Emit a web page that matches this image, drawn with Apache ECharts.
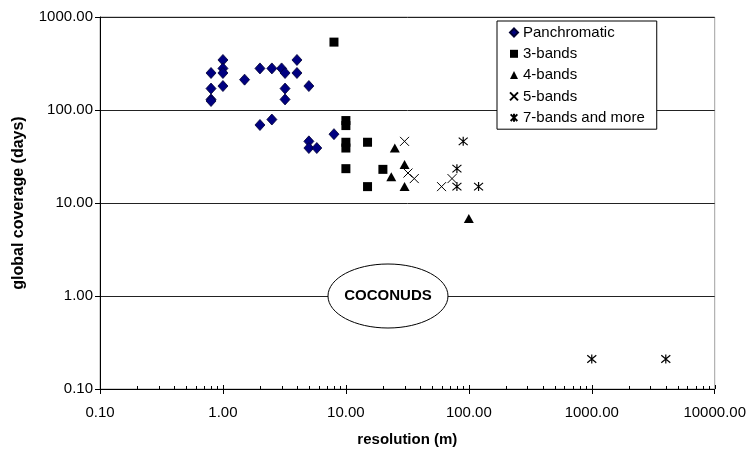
<!DOCTYPE html>
<html>
<head>
<meta charset="utf-8">
<script src="https://cdn.jsdelivr.net/npm/echarts@6/dist/echarts.min.js"></script>
<style>
html,body{margin:0;padding:0;background:#fff;}
#chart{width:749px;height:452px;}
</style>
</head>
<body>
<div id="chart"></div>
<script>
// ---- data ----
var seriesNames = ['Panchromatic', '3-bands', '4-bands', '5-bands', '7-bands and more'];
var panX = [0.8, 0.8, 0.8, 0.8, 1, 1, 1, 1, 1.5, 2, 2, 2.5, 2.5, 3, 3.2, 3.2, 3.2, 4, 4, 5, 5, 5, 5.8, 8];
var panY = [250, 170, 130, 125, 345, 280, 250, 181, 212, 280, 69, 280, 79, 280, 250, 170, 130, 345, 250, 181, 46, 39, 39, 55];
var b3X = [8, 10, 10, 10, 10, 10, 15, 15, 20];
var b3Y = [537, 77, 68, 45, 39, 23.4, 45, 15, 23];
var b4X = [25, 30, 23.4, 30, 100];
var b4Y = [39, 26, 19.2, 15, 6.8];
var b5X = [30, 32, 36, 60, 73];
var b5Y = [46, 21, 18.3, 15, 18.3];
var b7X = [90, 80, 80, 120, 1000, 4000];
var b7Y = [46, 23.4, 15, 15, 0.21, 0.21];
var xTicks = [0.1, 1, 10, 100, 1000, 10000];
var yTicks = [0.1, 1, 10, 100, 1000];
var annotationText = 'COCONUDS';
var annotationPos = [22, 1];

function pairs(xs, ys) { return xs.map(function (x, i) { return [x, ys[i]]; }); }

// minor tick positions (axis decoration), 2..9 within each decade
var minorTicks = [];
for (var d = 0; d < xTicks.length - 1; d++) {
  for (var k = 2; k <= 9; k++) minorTicks.push([xTicks[d] * k, yTicks[0], 3]);
}
xTicks.forEach(function (t) { minorTicks.push([t, yTicks[0], 4]); });

var FONT = '"Liberation Sans", Arial, sans-serif';
var xSym = 'path://M0,0L10,10M10,0L0,10';
var aSym = 'path://M0,0L10,10M10,0L0,10M5,-1L5,11';

var chart = echarts.init(document.getElementById('chart'), null, {renderer: 'canvas'});
var option = {
  backgroundColor: '#fff',
  animation: false,
  grid: {left: 100, right: 33, top: 17, bottom: 59, show: true, borderColor: '#a0a0a0', borderWidth: 1, backgroundColor: 'transparent'},
  legend: {
    data: seriesNames,
    orient: 'vertical',
    left: 497, top: 21,
    padding: [4, 12, 4, 12],
    itemGap: 6.3,
    itemWidth: 8, itemHeight: 8,
    borderColor: '#000', borderWidth: 1,
    backgroundColor: '#fff',
    textStyle: {fontFamily: FONT, fontSize: 15, color: '#000', lineHeight: 15},
    selectedMode: false
  },
  xAxis: {
    type: 'log', logBase: 10, min: 0.1, max: 10000,
    name: 'resolution (m)', nameLocation: 'middle', nameGap: 43,
    nameTextStyle: {fontFamily: FONT, fontSize: 15, fontWeight: 'bold', color: '#000'},
    axisLine: {show: true, onZero: false, lineStyle: {color: '#000', width: 1}},
    axisTick: {show: true, length: 5, lineStyle: {color: '#000'}},
    axisLabel: {fontFamily: FONT, fontSize: 15, color: '#000', margin: 16, formatter: function (v) { return Number(v).toFixed(2); }, showMinLabel: true, showMaxLabel: true, hideOverlap: false},
    splitLine: {show: false},
    minorTick: {show: false}
  },
  yAxis: {
    type: 'log', logBase: 10, min: 0.1, max: 1000,
    name: 'global coverage (days)', nameLocation: 'middle', nameGap: 73,
    nameTextStyle: {fontFamily: FONT, fontSize: 16, fontWeight: 'bold', color: '#000'},
    axisLine: {show: true, onZero: false, lineStyle: {color: '#000', width: 1}},
    axisTick: {show: true, length: 5, lineStyle: {color: '#000'}},
    axisLabel: {fontFamily: FONT, fontSize: 15, color: '#000', margin: 7, formatter: function (v) { return Number(v).toFixed(2); }, showMinLabel: true, showMaxLabel: true, hideOverlap: false},
    splitLine: {show: true, lineStyle: {color: '#222', width: 1}}
  },
  series: [
    {name: seriesNames[0], type: 'scatter', data: pairs(panX, panY), symbol: 'diamond', symbolSize: [10, 11],
     itemStyle: {color: '#000080', borderColor: '#000033', borderWidth: 0.8, opacity: 1}, z: 5},
    {name: seriesNames[1], type: 'scatter', data: pairs(b3X, b3Y), symbol: 'rect', symbolSize: 9,
     itemStyle: {color: '#000', opacity: 1}, z: 5},
    {name: seriesNames[2], type: 'scatter', data: pairs(b4X, b4Y), symbol: 'triangle', symbolSize: [10, 9],
     itemStyle: {color: '#000', opacity: 1}, z: 5},
    {name: seriesNames[3], type: 'scatter', data: pairs(b5X, b5Y), symbol: xSym, symbolSize: 9,
     itemStyle: {color: '#000', borderColor: '#000', borderWidth: 1, opacity: 1}, z: 5},
    {name: seriesNames[4], type: 'scatter', data: pairs(b7X, b7Y), symbol: aSym, symbolSize: 9,
     itemStyle: {color: '#000', borderColor: '#000', borderWidth: 1.2, opacity: 1}, z: 5},
    {name: 'minorTicks', type: 'custom', silent: true, clip: false, data: minorTicks, z: 3,
     renderItem: function (params, api) {
       var p = api.coord([api.value(0), api.value(1)]);
       var len = api.value(2);
       var x = Math.round(p[0]) + 0.5;
       return {type: 'line', shape: {x1: x, y1: p[1], x2: x, y2: p[1] - len}, style: {stroke: '#000', lineWidth: 1}};
     }}
  ]
};
chart.setOption(option);

var c = chart.convertToPixel({gridIndex: 0}, annotationPos);
chart.setOption({
  graphic: [
    {type: 'ellipse', shape: {cx: c[0], cy: c[1], rx: 60, ry: 32}, style: {fill: '#fff', stroke: '#000', lineWidth: 1}, z: 100},
    {type: 'text', x: c[0], y: c[1], style: {text: annotationText, font: 'bold 15px ' + FONT, fill: '#000', align: 'center', verticalAlign: 'middle'}, z: 101}
  ]
});
</script>
</body>
</html>
